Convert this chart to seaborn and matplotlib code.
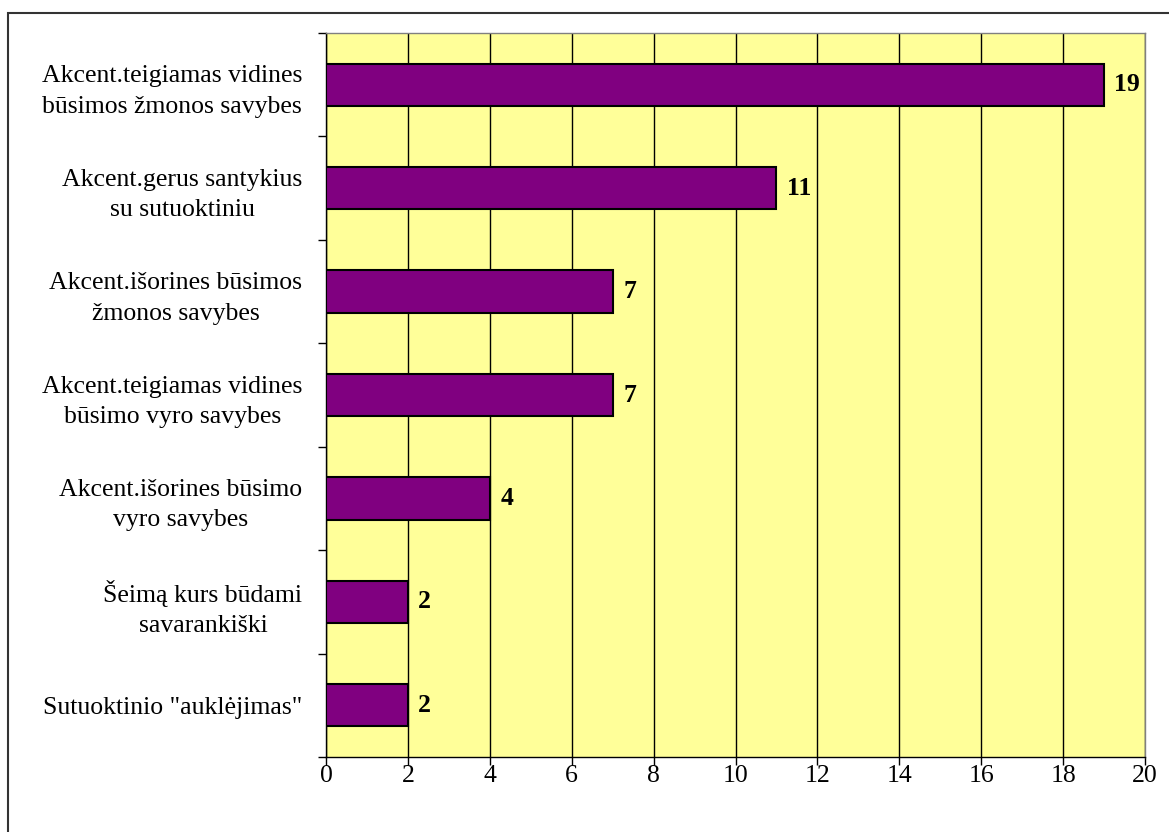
import matplotlib
matplotlib.use("Agg")
import matplotlib.pyplot as plt
import seaborn as sns
import pandas as pd
from matplotlib.patches import Rectangle

categories = [
    "Akcent.teigiamas vidines\nbūsimos žmonos savybes",
    "Akcent.gerus santykius\nsu sutuoktiniu",
    "Akcent.išorines būsimos\nžmonos savybes",
    "Akcent.teigiamas vidines\nbūsimo vyro savybes",
    "Akcent.išorines būsimo\nvyro savybes",
    "Šeimą kurs būdami\nsavarankiški",
    "Sutuoktinio \"auklėjimas\"",
]
values = [19, 11, 7, 7, 4, 2, 2]
xticks = [0, 2, 4, 6, 8, 10, 12, 14, 16, 18, 20]

df = pd.DataFrame({"cat": categories, "val": values})

sns.set_theme(style="white")
plt.rcParams['font.family'] = ['Liberation Serif', 'DejaVu Serif']
plt.rcParams['text.color'] = 'black'
plt.rcParams['xtick.color'] = 'black'
plt.rcParams['ytick.color'] = 'black'

FS = 18.5

fig = plt.figure(figsize=(11.69, 8.32), dpi=100)
ax = fig.add_axes([326/1169, 1 - 757/832, (1145-326)/1169, (757-33)/832])
ax.set_facecolor("#FFFF99")

sns.barplot(data=df, x="val", y="cat", orient="h", color="#800080",
            edgecolor="black", linewidth=1.5, width=0.41, saturation=1, ax=ax, zorder=3)

ax.set_xlim(0, 20)
ax.set_ylim(6.5, -0.5)
ax.set_xticks(xticks)
ax.set_xticklabels([str(t) for t in xticks], fontsize=FS, color="black")
ax.xaxis.grid(True, color="black", linewidth=1, zorder=1)
ax.set_axisbelow(True)
ax.set_xlabel("")
ax.set_ylabel("")

# y ticks at category boundaries
ax.set_yticks([i - 0.5 for i in range(len(categories) + 1)], minor=False)
ax.set_yticklabels([])
ax.set_yticks(range(len(categories)), minor=True)
ax.set_yticklabels(categories, minor=True, fontsize=FS, multialignment="center",
                   linespacing=1.5, color="black")
ax.tick_params(axis="y", which="minor", length=0, pad=17)
ax.tick_params(axis="y", which="major", length=6, width=1, color="black", direction="out", left=True)
ax.tick_params(axis="x", length=6, width=1, color="black", direction="out", bottom=True, pad=0)

for s in ["left", "bottom"]:
    ax.spines[s].set_color("black")
    ax.spines[s].set_linewidth(1)
for s in ["top", "right"]:
    ax.spines[s].set_color("#808080")
    ax.spines[s].set_linewidth(1)

for i, v in enumerate(values):
    ax.annotate(str(v), xy=(v, i), xytext=(7.5, 0), textcoords="offset points",
                va="center", ha="left", fontsize=FS, fontweight="bold", color="black")

fig.patches.append(Rectangle((8/1169, -0.01), 1.2, 1 - 13/832 + 0.01, transform=fig.transFigure,
                             fill=False, edgecolor="#333333", linewidth=1.5))

fig.savefig("out.png", dpi=100)
